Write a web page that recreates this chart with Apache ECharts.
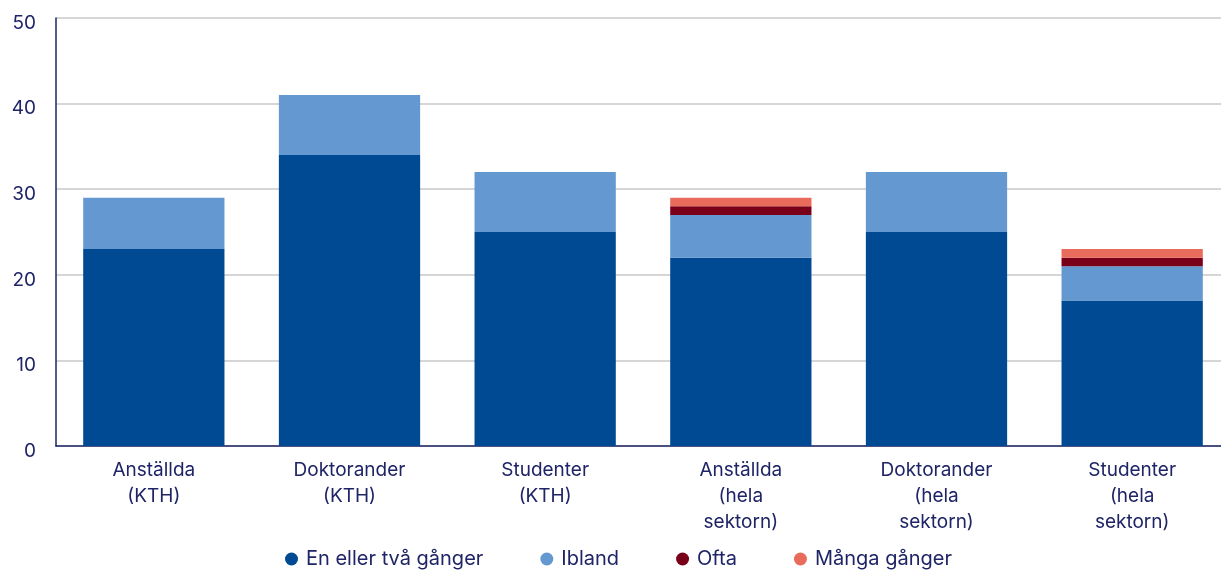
<!DOCTYPE html>
<html><head><meta charset="utf-8">
<script src="https://cdn.jsdelivr.net/npm/echarts@6/dist/echarts.min.js"></script>
<style>html,body{margin:0;padding:0;background:#fff;overflow:hidden;width:1221px;height:570px}#c{width:1230px;height:570px}</style>
</head><body><div id="c"></div>
<script>
const categories = ['Anställda\n(KTH)', 'Doktorander\n(KTH)', 'Studenter\n(KTH)', 'Anställda\n(hela\nsektorn)', 'Doktorander\n(hela\nsektorn)', 'Studenter\n(hela\nsektorn)'];
const seriesNames = ['En eller två gånger', 'Ibland', 'Ofta', 'Många gånger'];
const enEllerTva = [23, 34, 25, 22, 25, 17];
const ibland = [6, 7, 7, 5, 7, 4];
const ofta = [0, 0, 0, 1, 0, 1];
const mangaGanger = [0, 0, 0, 1, 0, 1];
const yTicks = [0, 10, 20, 30, 40, 50];
const colors = ['#004a93', '#6399d0', '#7a0019', '#e96b5b'];
const txt = '#1f2466';
const font = 'Inter';
const chart = echarts.init(document.getElementById('c'));
const data = [enEllerTva, ibland, ofta, mangaGanger];
chart.setOption({
  animation: false,
  color: colors,
  grid: {left: 56, right: 0, top: 18, bottom: 124},
  legend: {
    bottom: -4, left: 280, icon: 'circle', itemWidth: 13, itemHeight: 13, itemGap: 57,
    textStyle: {color: txt, fontSize: 20, fontFamily: font, padding: [0, 0, 0, 3]},
    data: seriesNames
  },
  xAxis: {
    type: 'category', data: categories,
    axisLine: {lineStyle: {color: '#1f2466', width: 1.5}},
    axisTick: {show: false},
    axisLabel: {color: txt, fontSize: 19, fontFamily: font, lineHeight: 26, margin: 11}
  },
  yAxis: {
    type: 'value', min: 0, max: 50, interval: 10,
    axisLine: {show: true, lineStyle: {color: '#1f2466', width: 1.5}},
    axisTick: {show: false},
    splitLine: {lineStyle: {color: '#c8c8c8', width: 1.5}},
    axisLabel: {color: txt, fontSize: 19, fontFamily: font, margin: 20, verticalAlign: 'top', lineHeight: 10,
      formatter: v => yTicks.includes(v) ? String(v) : ''}
  },
  series: seriesNames.map((n, i) => ({
    name: n, type: 'bar', stack: 'a', barWidth: '72.2%', data: data[i]
  }))
});
</script></body></html>
